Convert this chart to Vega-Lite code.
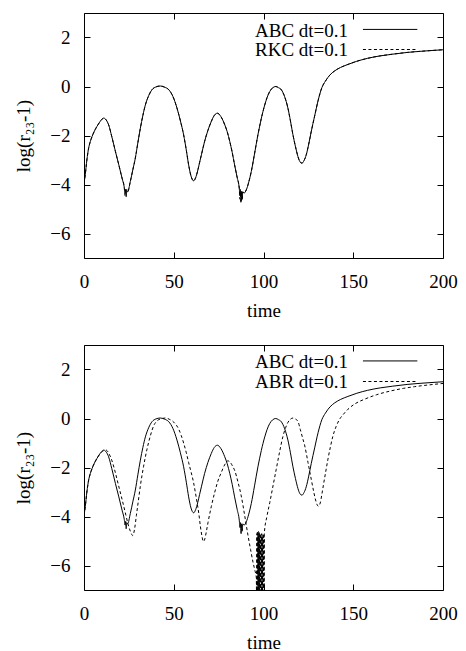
{
  "$schema": "https://vega.github.io/schema/vega-lite/v6.json",
  "padding": {"left": 14, "top": 12, "right": 5, "bottom": 0},
  "spacing": 23,
  "datasets": {
    "abc": [
      {"t":0,"v":-3.95,"s":"ABC dt=0.1"},{"t":0.7,"v":-3.6,"s":"ABC dt=0.1"},{"t":1.6,"v":-3.0,"s":"ABC dt=0.1"},{"t":2.6,"v":-2.51,"s":"ABC dt=0.1"},{"t":3.5,"v":-2.25,"s":"ABC dt=0.1"},{"t":4.5,"v":-2.04,"s":"ABC dt=0.1"},{"t":5.8,"v":-1.82,"s":"ABC dt=0.1"},{"t":7.2,"v":-1.63,"s":"ABC dt=0.1"},{"t":8.5,"v":-1.48,"s":"ABC dt=0.1"},{"t":9.7,"v":-1.36,"s":"ABC dt=0.1"},{"t":11,"v":-1.29,"s":"ABC dt=0.1"},{"t":12.3,"v":-1.36,"s":"ABC dt=0.1"},{"t":13.7,"v":-1.56,"s":"ABC dt=0.1"},{"t":15.5,"v":-2.05,"s":"ABC dt=0.1"},{"t":17.5,"v":-2.65,"s":"ABC dt=0.1"},{"t":19.4,"v":-3.2,"s":"ABC dt=0.1"},{"t":21.2,"v":-3.74,"s":"ABC dt=0.1"},{"t":22.4,"v":-4.1,"s":"ABC dt=0.1"},{"t":22.9,"v":-4.35,"s":"ABC dt=0.1"},{"t":23.2,"v":-4.2,"s":"ABC dt=0.1"},{"t":23.5,"v":-4.5,"s":"ABC dt=0.1"},{"t":23.8,"v":-4.25,"s":"ABC dt=0.1"},{"t":24.3,"v":-4.3,"s":"ABC dt=0.1"},{"t":25.8,"v":-3.88,"s":"ABC dt=0.1"},{"t":27.2,"v":-3.4,"s":"ABC dt=0.1"},{"t":28.6,"v":-2.92,"s":"ABC dt=0.1"},{"t":30,"v":-2.3,"s":"ABC dt=0.1"},{"t":31.4,"v":-1.7,"s":"ABC dt=0.1"},{"t":32.8,"v":-1.18,"s":"ABC dt=0.1"},{"t":34.2,"v":-0.75,"s":"ABC dt=0.1"},{"t":36,"v":-0.38,"s":"ABC dt=0.1"},{"t":37.9,"v":-0.13,"s":"ABC dt=0.1"},{"t":40,"v":-0.02,"s":"ABC dt=0.1"},{"t":42.5,"v":0.02,"s":"ABC dt=0.1"},{"t":45,"v":-0.03,"s":"ABC dt=0.1"},{"t":47.2,"v":-0.13,"s":"ABC dt=0.1"},{"t":49.5,"v":-0.4,"s":"ABC dt=0.1"},{"t":51.8,"v":-0.88,"s":"ABC dt=0.1"},{"t":53.7,"v":-1.4,"s":"ABC dt=0.1"},{"t":55.5,"v":-1.97,"s":"ABC dt=0.1"},{"t":57,"v":-2.6,"s":"ABC dt=0.1"},{"t":58.3,"v":-3.2,"s":"ABC dt=0.1"},{"t":59.6,"v":-3.65,"s":"ABC dt=0.1"},{"t":61.1,"v":-3.85,"s":"ABC dt=0.1"},{"t":62.2,"v":-3.72,"s":"ABC dt=0.1"},{"t":63.3,"v":-3.45,"s":"ABC dt=0.1"},{"t":64.4,"v":-3.1,"s":"ABC dt=0.1"},{"t":65.4,"v":-2.79,"s":"ABC dt=0.1"},{"t":67.2,"v":-2.24,"s":"ABC dt=0.1"},{"t":69,"v":-1.8,"s":"ABC dt=0.1"},{"t":70.9,"v":-1.43,"s":"ABC dt=0.1"},{"t":72.6,"v":-1.18,"s":"ABC dt=0.1"},{"t":74.3,"v":-1.09,"s":"ABC dt=0.1"},{"t":76.2,"v":-1.22,"s":"ABC dt=0.1"},{"t":78.4,"v":-1.56,"s":"ABC dt=0.1"},{"t":79.8,"v":-1.85,"s":"ABC dt=0.1"},{"t":81.2,"v":-2.24,"s":"ABC dt=0.1"},{"t":82.6,"v":-2.7,"s":"ABC dt=0.1"},{"t":83.9,"v":-3.2,"s":"ABC dt=0.1"},{"t":85.3,"v":-3.7,"s":"ABC dt=0.1"},{"t":86.5,"v":-4.15,"s":"ABC dt=0.1"},{"t":86.9,"v":-4.45,"s":"ABC dt=0.1"},{"t":87.2,"v":-4.25,"s":"ABC dt=0.1"},{"t":87.5,"v":-4.7,"s":"ABC dt=0.1"},{"t":87.8,"v":-4.3,"s":"ABC dt=0.1"},{"t":88.1,"v":-4.6,"s":"ABC dt=0.1"},{"t":88.5,"v":-4.3,"s":"ABC dt=0.1"},{"t":89.2,"v":-4.35,"s":"ABC dt=0.1"},{"t":90.4,"v":-4.22,"s":"ABC dt=0.1"},{"t":91.8,"v":-3.9,"s":"ABC dt=0.1"},{"t":93.2,"v":-3.47,"s":"ABC dt=0.1"},{"t":95,"v":-2.75,"s":"ABC dt=0.1"},{"t":96.9,"v":-1.97,"s":"ABC dt=0.1"},{"t":98.8,"v":-1.3,"s":"ABC dt=0.1"},{"t":100.7,"v":-0.75,"s":"ABC dt=0.1"},{"t":102,"v":-0.45,"s":"ABC dt=0.1"},{"t":103.5,"v":-0.2,"s":"ABC dt=0.1"},{"t":105,"v":-0.06,"s":"ABC dt=0.1"},{"t":106.8,"v":0.0,"s":"ABC dt=0.1"},{"t":108.4,"v":-0.05,"s":"ABC dt=0.1"},{"t":109.9,"v":-0.13,"s":"ABC dt=0.1"},{"t":111.8,"v":-0.42,"s":"ABC dt=0.1"},{"t":113.6,"v":-0.88,"s":"ABC dt=0.1"},{"t":115,"v":-1.4,"s":"ABC dt=0.1"},{"t":116.4,"v":-1.97,"s":"ABC dt=0.1"},{"t":117.8,"v":-2.45,"s":"ABC dt=0.1"},{"t":119.2,"v":-2.86,"s":"ABC dt=0.1"},{"t":120.3,"v":-3.07,"s":"ABC dt=0.1"},{"t":121.4,"v":-3.13,"s":"ABC dt=0.1"},{"t":122.6,"v":-3.02,"s":"ABC dt=0.1"},{"t":123.8,"v":-2.79,"s":"ABC dt=0.1"},{"t":125.2,"v":-2.35,"s":"ABC dt=0.1"},{"t":126.6,"v":-1.84,"s":"ABC dt=0.1"},{"t":128.5,"v":-1.2,"s":"ABC dt=0.1"},{"t":130.4,"v":-0.58,"s":"ABC dt=0.1"},{"t":132.5,"v":-0.05,"s":"ABC dt=0.1"},{"t":134.5,"v":0.22,"s":"ABC dt=0.1"},{"t":137,"v":0.47,"s":"ABC dt=0.1"},{"t":139.7,"v":0.64,"s":"ABC dt=0.1"},{"t":143,"v":0.78,"s":"ABC dt=0.1"},{"t":147,"v":0.9,"s":"ABC dt=0.1"},{"t":152,"v":1.03,"s":"ABC dt=0.1"},{"t":158,"v":1.15,"s":"ABC dt=0.1"},{"t":165,"v":1.25,"s":"ABC dt=0.1"},{"t":172,"v":1.32,"s":"ABC dt=0.1"},{"t":180,"v":1.39,"s":"ABC dt=0.1"},{"t":190,"v":1.45,"s":"ABC dt=0.1"},{"t":200,"v":1.5,"s":"ABC dt=0.1"}
    ],
    "rkc": [
      {"t":0,"v":-3.95,"s":"RKC dt=0.1"},{"t":0.7,"v":-3.6,"s":"RKC dt=0.1"},{"t":1.6,"v":-3.0,"s":"RKC dt=0.1"},{"t":2.6,"v":-2.51,"s":"RKC dt=0.1"},{"t":3.5,"v":-2.25,"s":"RKC dt=0.1"},{"t":4.5,"v":-2.04,"s":"RKC dt=0.1"},{"t":5.8,"v":-1.82,"s":"RKC dt=0.1"},{"t":7.2,"v":-1.63,"s":"RKC dt=0.1"},{"t":8.5,"v":-1.48,"s":"RKC dt=0.1"},{"t":9.7,"v":-1.36,"s":"RKC dt=0.1"},{"t":11,"v":-1.29,"s":"RKC dt=0.1"},{"t":12.3,"v":-1.36,"s":"RKC dt=0.1"},{"t":13.7,"v":-1.56,"s":"RKC dt=0.1"},{"t":15.5,"v":-2.05,"s":"RKC dt=0.1"},{"t":17.5,"v":-2.65,"s":"RKC dt=0.1"},{"t":19.4,"v":-3.2,"s":"RKC dt=0.1"},{"t":21.2,"v":-3.74,"s":"RKC dt=0.1"},{"t":22.4,"v":-4.1,"s":"RKC dt=0.1"},{"t":22.8,"v":-4.45,"s":"RKC dt=0.1"},{"t":23.1,"v":-4.2,"s":"RKC dt=0.1"},{"t":23.4,"v":-4.4,"s":"RKC dt=0.1"},{"t":23.8,"v":-4.2,"s":"RKC dt=0.1"},{"t":24.3,"v":-4.3,"s":"RKC dt=0.1"},{"t":25.8,"v":-3.88,"s":"RKC dt=0.1"},{"t":27.2,"v":-3.4,"s":"RKC dt=0.1"},{"t":28.6,"v":-2.92,"s":"RKC dt=0.1"},{"t":30,"v":-2.3,"s":"RKC dt=0.1"},{"t":31.4,"v":-1.7,"s":"RKC dt=0.1"},{"t":32.8,"v":-1.18,"s":"RKC dt=0.1"},{"t":34.2,"v":-0.75,"s":"RKC dt=0.1"},{"t":36,"v":-0.38,"s":"RKC dt=0.1"},{"t":37.9,"v":-0.13,"s":"RKC dt=0.1"},{"t":40,"v":-0.02,"s":"RKC dt=0.1"},{"t":42.5,"v":0.02,"s":"RKC dt=0.1"},{"t":45,"v":-0.03,"s":"RKC dt=0.1"},{"t":47.2,"v":-0.13,"s":"RKC dt=0.1"},{"t":49.5,"v":-0.4,"s":"RKC dt=0.1"},{"t":51.8,"v":-0.88,"s":"RKC dt=0.1"},{"t":53.7,"v":-1.4,"s":"RKC dt=0.1"},{"t":55.5,"v":-1.97,"s":"RKC dt=0.1"},{"t":57,"v":-2.6,"s":"RKC dt=0.1"},{"t":58.3,"v":-3.2,"s":"RKC dt=0.1"},{"t":59.6,"v":-3.65,"s":"RKC dt=0.1"},{"t":61.1,"v":-3.85,"s":"RKC dt=0.1"},{"t":62.2,"v":-3.72,"s":"RKC dt=0.1"},{"t":63.3,"v":-3.45,"s":"RKC dt=0.1"},{"t":64.4,"v":-3.1,"s":"RKC dt=0.1"},{"t":65.4,"v":-2.79,"s":"RKC dt=0.1"},{"t":67.2,"v":-2.24,"s":"RKC dt=0.1"},{"t":69,"v":-1.8,"s":"RKC dt=0.1"},{"t":70.9,"v":-1.43,"s":"RKC dt=0.1"},{"t":72.6,"v":-1.18,"s":"RKC dt=0.1"},{"t":74.3,"v":-1.09,"s":"RKC dt=0.1"},{"t":76.2,"v":-1.22,"s":"RKC dt=0.1"},{"t":78.4,"v":-1.56,"s":"RKC dt=0.1"},{"t":79.8,"v":-1.85,"s":"RKC dt=0.1"},{"t":81.2,"v":-2.24,"s":"RKC dt=0.1"},{"t":82.6,"v":-2.7,"s":"RKC dt=0.1"},{"t":83.9,"v":-3.2,"s":"RKC dt=0.1"},{"t":85.3,"v":-3.7,"s":"RKC dt=0.1"},{"t":86.5,"v":-4.15,"s":"RKC dt=0.1"},{"t":86.8,"v":-4.6,"s":"RKC dt=0.1"},{"t":87.1,"v":-4.2,"s":"RKC dt=0.1"},{"t":87.4,"v":-4.75,"s":"RKC dt=0.1"},{"t":87.7,"v":-4.25,"s":"RKC dt=0.1"},{"t":88.0,"v":-4.65,"s":"RKC dt=0.1"},{"t":88.4,"v":-4.3,"s":"RKC dt=0.1"},{"t":89.2,"v":-4.35,"s":"RKC dt=0.1"},{"t":90.4,"v":-4.22,"s":"RKC dt=0.1"},{"t":91.8,"v":-3.9,"s":"RKC dt=0.1"},{"t":93.2,"v":-3.47,"s":"RKC dt=0.1"},{"t":95,"v":-2.75,"s":"RKC dt=0.1"},{"t":96.9,"v":-1.97,"s":"RKC dt=0.1"},{"t":98.8,"v":-1.3,"s":"RKC dt=0.1"},{"t":100.7,"v":-0.75,"s":"RKC dt=0.1"},{"t":102,"v":-0.45,"s":"RKC dt=0.1"},{"t":103.5,"v":-0.2,"s":"RKC dt=0.1"},{"t":105,"v":-0.06,"s":"RKC dt=0.1"},{"t":106.8,"v":0.0,"s":"RKC dt=0.1"},{"t":108.4,"v":-0.05,"s":"RKC dt=0.1"},{"t":109.9,"v":-0.13,"s":"RKC dt=0.1"},{"t":111.8,"v":-0.42,"s":"RKC dt=0.1"},{"t":113.6,"v":-0.88,"s":"RKC dt=0.1"},{"t":115,"v":-1.4,"s":"RKC dt=0.1"},{"t":116.4,"v":-1.97,"s":"RKC dt=0.1"},{"t":117.8,"v":-2.45,"s":"RKC dt=0.1"},{"t":119.2,"v":-2.86,"s":"RKC dt=0.1"},{"t":120.3,"v":-3.07,"s":"RKC dt=0.1"},{"t":121.4,"v":-3.13,"s":"RKC dt=0.1"},{"t":122.6,"v":-3.02,"s":"RKC dt=0.1"},{"t":123.8,"v":-2.79,"s":"RKC dt=0.1"},{"t":125.2,"v":-2.35,"s":"RKC dt=0.1"},{"t":126.6,"v":-1.84,"s":"RKC dt=0.1"},{"t":128.5,"v":-1.2,"s":"RKC dt=0.1"},{"t":130.4,"v":-0.58,"s":"RKC dt=0.1"},{"t":132.5,"v":-0.05,"s":"RKC dt=0.1"},{"t":134.5,"v":0.22,"s":"RKC dt=0.1"},{"t":137,"v":0.47,"s":"RKC dt=0.1"},{"t":139.7,"v":0.64,"s":"RKC dt=0.1"},{"t":143,"v":0.78,"s":"RKC dt=0.1"},{"t":147,"v":0.9,"s":"RKC dt=0.1"},{"t":152,"v":1.03,"s":"RKC dt=0.1"},{"t":158,"v":1.15,"s":"RKC dt=0.1"},{"t":165,"v":1.25,"s":"RKC dt=0.1"},{"t":172,"v":1.32,"s":"RKC dt=0.1"},{"t":180,"v":1.39,"s":"RKC dt=0.1"},{"t":190,"v":1.45,"s":"RKC dt=0.1"},{"t":200,"v":1.5,"s":"RKC dt=0.1"}
    ],
    "abr": [
      {"t":0,"v":-3.95,"s":"ABR dt=0.1"},{"t":0.7,"v":-3.6,"s":"ABR dt=0.1"},{"t":1.6,"v":-3.0,"s":"ABR dt=0.1"},{"t":2.6,"v":-2.51,"s":"ABR dt=0.1"},{"t":3.5,"v":-2.25,"s":"ABR dt=0.1"},{"t":4.5,"v":-2.04,"s":"ABR dt=0.1"},{"t":5.8,"v":-1.82,"s":"ABR dt=0.1"},{"t":7.2,"v":-1.63,"s":"ABR dt=0.1"},{"t":8.5,"v":-1.48,"s":"ABR dt=0.1"},{"t":9.7,"v":-1.38,"s":"ABR dt=0.1"},{"t":11,"v":-1.31,"s":"ABR dt=0.1"},{"t":12.3,"v":-1.29,"s":"ABR dt=0.1"},{"t":13.8,"v":-1.42,"s":"ABR dt=0.1"},{"t":15.6,"v":-1.73,"s":"ABR dt=0.1"},{"t":17.5,"v":-2.22,"s":"ABR dt=0.1"},{"t":19.3,"v":-2.75,"s":"ABR dt=0.1"},{"t":21.2,"v":-3.3,"s":"ABR dt=0.1"},{"t":23,"v":-3.84,"s":"ABR dt=0.1"},{"t":24.5,"v":-4.3,"s":"ABR dt=0.1"},{"t":25.8,"v":-4.6,"s":"ABR dt=0.1"},{"t":27.2,"v":-4.78,"s":"ABR dt=0.1"},{"t":28.2,"v":-4.5,"s":"ABR dt=0.1"},{"t":29.2,"v":-3.95,"s":"ABR dt=0.1"},{"t":30.3,"v":-3.35,"s":"ABR dt=0.1"},{"t":31.4,"v":-2.75,"s":"ABR dt=0.1"},{"t":33.2,"v":-1.95,"s":"ABR dt=0.1"},{"t":35.1,"v":-1.25,"s":"ABR dt=0.1"},{"t":37,"v":-0.7,"s":"ABR dt=0.1"},{"t":38.8,"v":-0.3,"s":"ABR dt=0.1"},{"t":41,"v":-0.08,"s":"ABR dt=0.1"},{"t":43.5,"v":0.0,"s":"ABR dt=0.1"},{"t":45.5,"v":0.02,"s":"ABR dt=0.1"},{"t":47.5,"v":-0.03,"s":"ABR dt=0.1"},{"t":50,"v":-0.15,"s":"ABR dt=0.1"},{"t":52.8,"v":-0.44,"s":"ABR dt=0.1"},{"t":54.2,"v":-0.7,"s":"ABR dt=0.1"},{"t":55.5,"v":-1.0,"s":"ABR dt=0.1"},{"t":57,"v":-1.4,"s":"ABR dt=0.1"},{"t":58.3,"v":-1.8,"s":"ABR dt=0.1"},{"t":59.7,"v":-2.2,"s":"ABR dt=0.1"},{"t":61,"v":-2.6,"s":"ABR dt=0.1"},{"t":62,"v":-3.0,"s":"ABR dt=0.1"},{"t":63,"v":-3.43,"s":"ABR dt=0.1"},{"t":64,"v":-3.9,"s":"ABR dt=0.1"},{"t":64.8,"v":-4.38,"s":"ABR dt=0.1"},{"t":65.7,"v":-4.8,"s":"ABR dt=0.1"},{"t":66.5,"v":-5.02,"s":"ABR dt=0.1"},{"t":67.3,"v":-4.92,"s":"ABR dt=0.1"},{"t":68.2,"v":-4.6,"s":"ABR dt=0.1"},{"t":69.1,"v":-4.24,"s":"ABR dt=0.1"},{"t":70.9,"v":-3.6,"s":"ABR dt=0.1"},{"t":72.8,"v":-3.02,"s":"ABR dt=0.1"},{"t":74.6,"v":-2.55,"s":"ABR dt=0.1"},{"t":76.5,"v":-2.2,"s":"ABR dt=0.1"},{"t":78.3,"v":-1.9,"s":"ABR dt=0.1"},{"t":80.2,"v":-1.73,"s":"ABR dt=0.1"},{"t":81.6,"v":-1.8,"s":"ABR dt=0.1"},{"t":82.8,"v":-1.95,"s":"ABR dt=0.1"},{"t":84,"v":-2.13,"s":"ABR dt=0.1"},{"t":85.8,"v":-2.6,"s":"ABR dt=0.1"},{"t":87.6,"v":-3.16,"s":"ABR dt=0.1"},{"t":89.5,"v":-3.95,"s":"ABR dt=0.1"},{"t":91.4,"v":-4.79,"s":"ABR dt=0.1"},{"t":92.8,"v":-5.35,"s":"ABR dt=0.1"},{"t":94.2,"v":-5.88,"s":"ABR dt=0.1"},{"t":95.2,"v":-6.2,"s":"ABR dt=0.1"},{"t":96,"v":-6.5,"s":"ABR dt=0.1"},
      {"t":96.15,"v":-7.5,"s":"ABR dt=0.1"},{"t":96.3,"v":-4.7,"s":"ABR dt=0.1"},{"t":96.45,"v":-7.5,"s":"ABR dt=0.1"},{"t":96.6,"v":-4.6,"s":"ABR dt=0.1"},{"t":96.75,"v":-7.5,"s":"ABR dt=0.1"},{"t":96.9,"v":-4.75,"s":"ABR dt=0.1"},{"t":97.05,"v":-7.5,"s":"ABR dt=0.1"},{"t":97.2,"v":-4.6,"s":"ABR dt=0.1"},{"t":97.35,"v":-7.5,"s":"ABR dt=0.1"},{"t":97.5,"v":-4.7,"s":"ABR dt=0.1"},{"t":97.65,"v":-7.5,"s":"ABR dt=0.1"},{"t":97.8,"v":-4.65,"s":"ABR dt=0.1"},{"t":97.95,"v":-7.5,"s":"ABR dt=0.1"},{"t":98.1,"v":-4.8,"s":"ABR dt=0.1"},{"t":98.25,"v":-7.5,"s":"ABR dt=0.1"},{"t":98.4,"v":-4.7,"s":"ABR dt=0.1"},{"t":98.55,"v":-7.5,"s":"ABR dt=0.1"},{"t":98.7,"v":-4.75,"s":"ABR dt=0.1"},{"t":98.85,"v":-7.5,"s":"ABR dt=0.1"},{"t":99.0,"v":-4.7,"s":"ABR dt=0.1"},{"t":99.15,"v":-7.5,"s":"ABR dt=0.1"},{"t":99.3,"v":-4.8,"s":"ABR dt=0.1"},{"t":99.45,"v":-7.5,"s":"ABR dt=0.1"},{"t":99.6,"v":-4.75,"s":"ABR dt=0.1"},{"t":99.75,"v":-7.5,"s":"ABR dt=0.1"},{"t":99.9,"v":-4.7,"s":"ABR dt=0.1"},{"t":100.05,"v":-7.5,"s":"ABR dt=0.1"},{"t":100.2,"v":-4.8,"s":"ABR dt=0.1"},{"t":100.35,"v":-6.8,"s":"ABR dt=0.1"},{"t":100.5,"v":-4.65,"s":"ABR dt=0.1"},
      {"t":101.9,"v":-4.0,"s":"ABR dt=0.1"},{"t":103.5,"v":-3.43,"s":"ABR dt=0.1"},{"t":105.3,"v":-2.75,"s":"ABR dt=0.1"},{"t":107.1,"v":-2.07,"s":"ABR dt=0.1"},{"t":109,"v":-1.35,"s":"ABR dt=0.1"},{"t":110.9,"v":-0.71,"s":"ABR dt=0.1"},{"t":112.3,"v":-0.38,"s":"ABR dt=0.1"},{"t":113.6,"v":-0.16,"s":"ABR dt=0.1"},{"t":115,"v":-0.03,"s":"ABR dt=0.1"},{"t":116.4,"v":0.02,"s":"ABR dt=0.1"},{"t":117.8,"v":-0.02,"s":"ABR dt=0.1"},{"t":119.2,"v":-0.12,"s":"ABR dt=0.1"},{"t":120.5,"v":-0.45,"s":"ABR dt=0.1"},{"t":121.8,"v":-0.8,"s":"ABR dt=0.1"},{"t":123,"v":-1.12,"s":"ABR dt=0.1"},{"t":124.8,"v":-1.8,"s":"ABR dt=0.1"},{"t":126.6,"v":-2.48,"s":"ABR dt=0.1"},{"t":128,"v":-3.0,"s":"ABR dt=0.1"},{"t":129.3,"v":-3.4,"s":"ABR dt=0.1"},{"t":130.5,"v":-3.58,"s":"ABR dt=0.1"},{"t":131.6,"v":-3.45,"s":"ABR dt=0.1"},{"t":132.5,"v":-3.1,"s":"ABR dt=0.1"},{"t":133.3,"v":-2.75,"s":"ABR dt=0.1"},{"t":134.6,"v":-2.2,"s":"ABR dt=0.1"},{"t":135.9,"v":-1.66,"s":"ABR dt=0.1"},{"t":137.3,"v":-1.15,"s":"ABR dt=0.1"},{"t":138.7,"v":-0.71,"s":"ABR dt=0.1"},{"t":140.5,"v":-0.32,"s":"ABR dt=0.1"},{"t":142.4,"v":-0.03,"s":"ABR dt=0.1"},{"t":144.5,"v":0.17,"s":"ABR dt=0.1"},{"t":147.1,"v":0.38,"s":"ABR dt=0.1"},{"t":151,"v":0.6,"s":"ABR dt=0.1"},{"t":156.4,"v":0.79,"s":"ABR dt=0.1"},{"t":163,"v":0.97,"s":"ABR dt=0.1"},{"t":171.2,"v":1.13,"s":"ABR dt=0.1"},{"t":178,"v":1.23,"s":"ABR dt=0.1"},{"t":184.2,"v":1.3,"s":"ABR dt=0.1"},{"t":192,"v":1.37,"s":"ABR dt=0.1"},{"t":200,"v":1.43,"s":"ABR dt=0.1"}
    ]
  },
  "vconcat": [
    {
      "width": 359,
      "height": 245,
      "layer": [
        {
          "data": {"name": "abc"},
          "mark": {"type": "line", "clip": true, "interpolate": "monotone"},
          "encoding": {
            "x": {"field": "t", "type": "quantitative", "scale": {"domain": [0, 200], "nice": false}, "axis": {"orient": "bottom", "values": [0, 50, 100, 150, 200], "title": "time"}},
            "y": {"field": "v", "type": "quantitative", "scale": {"domain": [-7, 3], "nice": false, "zero": false}, "axis": {"orient": "left", "values": [-6, -4, -2, 0, 2], "title": "log(r₂₃-1)"}},
            "detail": {"field": "s", "type": "nominal"}
          }
        },
        {
          "data": {"name": "rkc"},
          "mark": {"type": "line", "clip": true, "interpolate": "monotone", "strokeDash": [3, 2.5]},
          "encoding": {
            "x": {"field": "t", "type": "quantitative", "axis": {"orient": "top", "values": [0, 50, 100, 150, 200], "labels": false, "title": null}},
            "y": {"field": "v", "type": "quantitative", "axis": {"orient": "right", "values": [-6, -4, -2, 0, 2], "labels": false, "title": null}},
            "detail": {"field": "s", "type": "nominal"}
          }
        },
        {
          "data": {"values": [{"label": "ABC dt=0.1"}]},
          "mark": {"type": "text", "align": "right", "baseline": "alphabetic", "font": "Liberation Serif", "fontSize": 19, "color": "black"},
          "encoding": {"x": {"datum": 147.1, "type": "quantitative", "axis": null}, "y": {"datum": 2.04, "type": "quantitative", "axis": null}, "text": {"field": "label"}}
        },
        {
          "data": {"values": [{"label": "RKC dt=0.1"}]},
          "mark": {"type": "text", "align": "right", "baseline": "alphabetic", "font": "Liberation Serif", "fontSize": 19, "color": "black"},
          "encoding": {"x": {"datum": 147.1, "type": "quantitative", "axis": null}, "y": {"datum": 1.23, "type": "quantitative", "axis": null}, "text": {"field": "label"}}
        },
        {
          "data": {"values": [{"label": "ABC dt=0.1"}]},
          "mark": {"type": "rule", "color": "black", "strokeWidth": 1},
          "encoding": {"x": {"datum": 155.4, "type": "quantitative", "axis": null}, "x2": {"datum": 185.7}, "y": {"datum": 2.33, "type": "quantitative", "axis": null}}
        },
        {
          "data": {"values": [{"label": "RKC dt=0.1"}]},
          "mark": {"type": "rule", "color": "black", "strokeWidth": 1, "strokeDash": [3, 2.5]},
          "encoding": {"x": {"datum": 155.4, "type": "quantitative", "axis": null}, "x2": {"datum": 185.7}, "y": {"datum": 1.51, "type": "quantitative", "axis": null}}
        }
      ],
      "resolve": {"axis": {"x": "independent", "y": "independent"}}
    },
    {
      "width": 359,
      "height": 245,
      "layer": [
        {
          "data": {"name": "abc"},
          "mark": {"type": "line", "clip": true, "interpolate": "monotone"},
          "encoding": {
            "x": {"field": "t", "type": "quantitative", "scale": {"domain": [0, 200], "nice": false}, "axis": {"orient": "bottom", "values": [0, 50, 100, 150, 200], "title": "time"}},
            "y": {"field": "v", "type": "quantitative", "scale": {"domain": [-7, 3], "nice": false, "zero": false}, "axis": {"orient": "left", "values": [-6, -4, -2, 0, 2], "title": "log(r₂₃-1)"}},
            "detail": {"field": "s", "type": "nominal"}
          }
        },
        {
          "data": {"name": "abr"},
          "mark": {"type": "line", "clip": true, "interpolate": "monotone", "strokeDash": [3, 2.5]},
          "encoding": {
            "x": {"field": "t", "type": "quantitative", "axis": {"orient": "top", "values": [0, 50, 100, 150, 200], "labels": false, "title": null}},
            "y": {"field": "v", "type": "quantitative", "axis": {"orient": "right", "values": [-6, -4, -2, 0, 2], "labels": false, "title": null}},
            "detail": {"field": "s", "type": "nominal"}
          }
        },
        {
          "data": {"values": [{"label": "ABC dt=0.1"}]},
          "mark": {"type": "text", "align": "right", "baseline": "alphabetic", "font": "Liberation Serif", "fontSize": 19, "color": "black"},
          "encoding": {"x": {"datum": 147.1, "type": "quantitative", "axis": null}, "y": {"datum": 2.05, "type": "quantitative", "axis": null}, "text": {"field": "label"}}
        },
        {
          "data": {"values": [{"label": "ABR dt=0.1"}]},
          "mark": {"type": "text", "align": "right", "baseline": "alphabetic", "font": "Liberation Serif", "fontSize": 19, "color": "black"},
          "encoding": {"x": {"datum": 147.1, "type": "quantitative", "axis": null}, "y": {"datum": 1.24, "type": "quantitative", "axis": null}, "text": {"field": "label"}}
        },
        {
          "data": {"values": [{"label": "ABC dt=0.1"}]},
          "mark": {"type": "rule", "color": "black", "strokeWidth": 1},
          "encoding": {"x": {"datum": 155.4, "type": "quantitative", "axis": null}, "x2": {"datum": 185.7}, "y": {"datum": 2.35, "type": "quantitative", "axis": null}}
        },
        {
          "data": {"values": [{"label": "ABR dt=0.1"}]},
          "mark": {"type": "rule", "color": "black", "strokeWidth": 1, "strokeDash": [3, 2.5]},
          "encoding": {"x": {"datum": 155.4, "type": "quantitative", "axis": null}, "x2": {"datum": 185.7}, "y": {"datum": 1.51, "type": "quantitative", "axis": null}}
        }
      ],
      "resolve": {"axis": {"x": "independent", "y": "independent"}}
    }
  ],
  "config": {
    "view": {"stroke": "black", "strokeWidth": 1},
    "line": {"color": "black", "strokeWidth": 1},
    "axis": {"domain": false, "grid": false, "tickSize": -6, "tickColor": "black", "tickWidth": 1, "labelFlush": false, "labelFont": "Liberation Serif", "labelFontSize": 19, "labelColor": "black", "labelPadding": 20, "titleFont": "Liberation Serif", "titleFontSize": 19, "titleFontWeight": "normal", "titleColor": "black"},
    "axisX": {"titlePadding": 10},
    "axisY": {"titlePadding": 16}
  }
}
